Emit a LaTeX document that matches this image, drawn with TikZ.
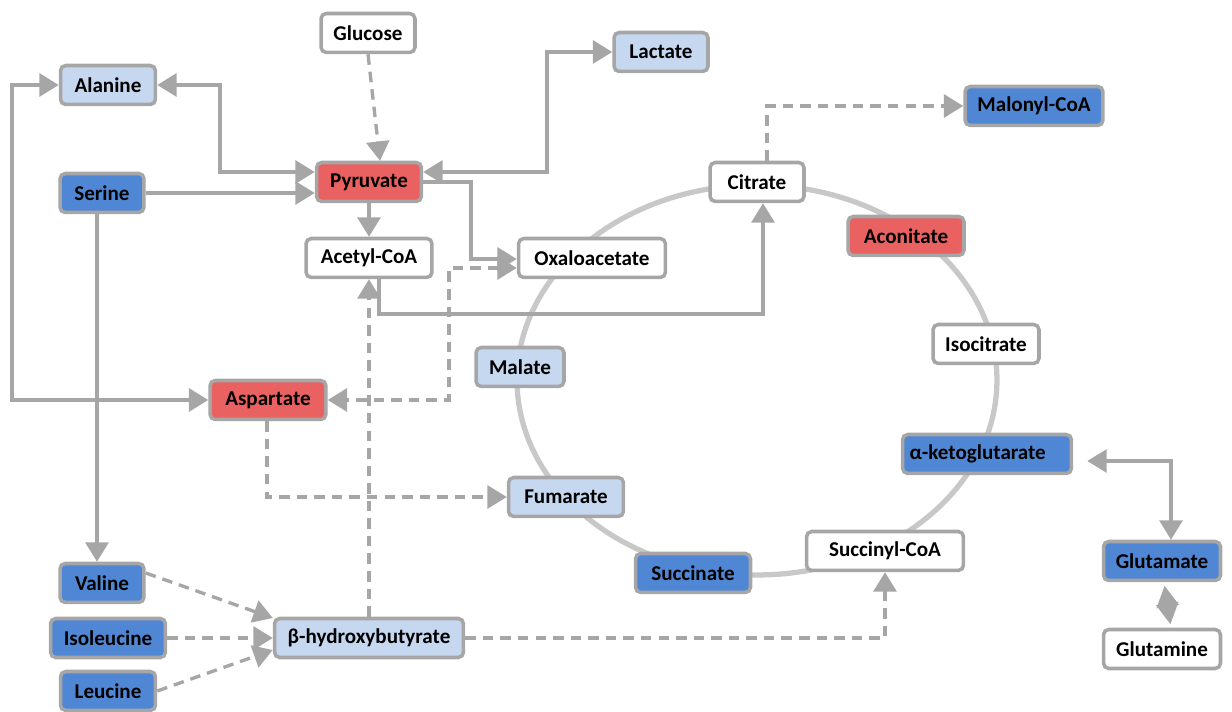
\documentclass[tikz,border=0pt]{standalone}
\usepackage{fontspec}
\setmainfont{Carlito}
\usetikzlibrary{arrows.meta}
\definecolor{hotred}{RGB}{233,97,96}
\definecolor{deepblue}{RGB}{80,135,212}
\definecolor{paleblue}{RGB}{198,216,240}
\definecolor{boxgray}{RGB}{166,166,166}
\definecolor{ringgray}{RGB}{200,200,200}
\tikzset{
  box/.style={draw=boxgray, line width=2pt, rounded corners=3pt, minimum height=0.78cm,
    inner sep=2pt, font=\bfseries\fontsize{12}{14}\selectfont},
  plain/.style={box, fill=white},
  pale/.style={box, fill=paleblue},
  deep/.style={box, fill=deepblue},
  hot/.style={box, fill=hotred},
  link/.style={draw=boxgray, line width=1.9pt, -{Triangle[length=11pt,width=13pt]}},
  twoway/.style={link, {Triangle[length=11pt,width=13pt]}-{Triangle[length=11pt,width=13pt]}},
  dlink/.style={link, dash pattern=on 6pt off 4pt},
  dtwoway/.style={twoway, dash pattern=on 6pt off 4pt},
  ring/.style={draw=ringgray, line width=3pt}
}
\begin{document}
\begin{tikzpicture}[x=0.02cm, y=-0.02cm]
        \useasboundingbox (0,0) rectangle (1232,712);
        \draw[ring] (757,380) ellipse [x radius=4.8cm, y radius=3.9cm];

        \node[plain, minimum width=1.88cm] (glc) at (368,33) {Glucose};
        \node[pale, minimum width=1.9cm] (ala) at (108,85) {Alanine};
        \node[pale, minimum width=1.88cm] (lac) at (661,52) {Lactate};
        \node[deep, minimum width=2.76cm] (mal) at (1034,106) {Malonyl-CoA};
        \node[deep, minimum width=1.68cm] (ser) at (102,193) {Serine};
        \node[hot, minimum width=2.1cm] (pyr) at (369,182) {Pyruvate};
        \node[plain, minimum width=1.88cm] (cit) at (757,182) {Citrate};
        \node[plain, minimum width=2.52cm] (acc) at (369,258) {Acetyl-CoA};
        \node[plain, minimum width=2.94cm] (oxa) at (592,258) {Oxaloacetate};
        \node[hot, minimum width=2.32cm] (aco) at (906,236) {Aconitate};
        \node[pale, minimum width=1.76cm] (mla) at (520,367) {Malate};
        \node[plain, minimum width=2.12cm] (ict) at (986,344) {Isocitrate};
        \node[hot, minimum width=2.32cm] (asp) at (268,400) {Aspartate};
        \node[deep, minimum width=3.38cm, align=left, text width=3.1cm] (akg) at (987,454) {α-ketoglutarate};
        \node[pale, minimum width=2.3cm] (fum) at (566,497) {Fumarate};
        \node[deep, minimum width=2.3cm] (suc) at (693,573) {Succinate};
        \node[plain, minimum width=3.14cm] (sca) at (885,551) {Succinyl-CoA};
        \node[deep, minimum width=2.34cm] (glm) at (1162,561) {Glutamate};
        \node[plain, minimum width=2.34cm] (gln) at (1162,649) {Glutamine};
        \node[deep, minimum width=1.68cm] (val) at (102,583) {Valine};
        \node[deep, minimum width=2.3cm] (ile) at (108,638) {Isoleucine};
        \node[pale, minimum width=3.78cm] (bhb) at (369,638) {β-hydroxybutyrate};
        \node[deep, minimum width=1.9cm] (leu) at (108,691) {Leucine};

        \draw[dlink] (glc.south) -- (pyr.north -| 380,0);
        \draw[twoway] (ala.east) -- (220,85) |- (pyr.west |- 0,172);
        \draw[link] (ser.east) -- (pyr.west |- ser.east);
        \draw[twoway] (ala.west) -- (12,85) |- (asp.west);
        \draw[link] (ser.south -| 97,0) -- (val.north -| 97,0);
        \draw[link] (pyr) -- (acc);
        \draw[twoway] (pyr.east |- 0,172) -- (547,172) |- (lac.west);
        \draw[link] (pyr.east) -- (471,182) |- (oxa.west |- 0,259);
        \draw[dtwoway] (oxa.west |- 0,268) -- (449,268) |- (asp.east);
        \draw[link] (acc.south -| 379,0) -- (379,314) -| (cit.south -| 763,0);
        \draw[dlink] (cit.north -| 767,0) |- (mal.west);
        \draw[dlink] (asp.south -| 267,0) |- (fum.west);
        \draw[dlink] (bhb.north) -- (acc.south);
        \draw[dlink] (val.east |- 0,573) -- (bhb.west |- 0,618);
        \draw[dlink] (ile.east) -- (bhb.west);
        \draw[dlink] (leu.east) -- (bhb.west |- 0,650);
        \draw[dlink] (bhb.east) -| (sca.south);
        \draw[twoway, shorten <=8pt] (akg.east |- 0,461) -| (glm.north -| 1171,0);
        \draw[draw=boxgray, line width=1.9pt, shorten <=2pt, shorten >=2pt,
          {Triangle[length=12pt,width=12.5pt]}-{Triangle[length=12pt,width=12.5pt]}]
          (gln.north -| 1171,0) -- (glm.south -| 1164,0);
\end{tikzpicture}
\end{document}
